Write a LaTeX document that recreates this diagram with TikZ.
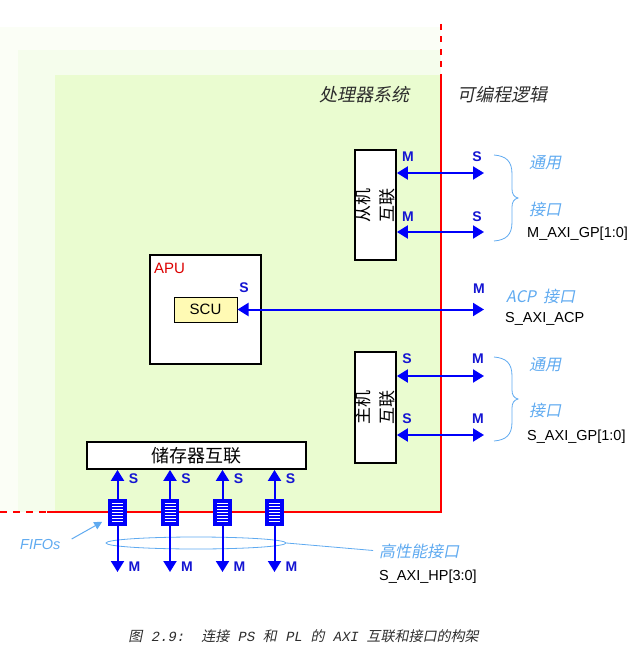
\documentclass[tikz,border=0pt]{standalone}
\usepackage{fontspec}
\setmainfont{Liberation Sans}
\newfontfamily\cjk{Noto Sans CJK SC}
\newfontfamily\cjkit[FakeSlant=0.2]{Noto Sans CJK SC}
\newfontfamily\capmono[FakeSlant=0.2]{Liberation Mono}
\usetikzlibrary{arrows.meta,shapes.geometric,calc}
\definecolor{gA}{RGB}{251,254,246}
\definecolor{gB}{RGB}{245,253,236}
\definecolor{gC}{RGB}{234,252,208}
\definecolor{ablue}{RGB}{0,0,250}
\definecolor{labblue}{RGB}{20,20,210}
\definecolor{lblue}{RGB}{95,170,240}
\definecolor{dgray}{RGB}{45,45,45}
\definecolor{scuy}{RGB}{255,250,180}
\definecolor{pred}{RGB}{255,0,0}
\definecolor{apured}{RGB}{220,0,0}
\begin{document}
\begin{tikzpicture}[x=1pt,y=-1pt,
  box/.style={draw=black,line width=1.8pt,fill=white,inner sep=0pt},
  port/.style={ablue,line width=2pt},
  tip/.style={port,-{Triangle[length=11pt,width=13pt]}},
  bi/.style={port,{Triangle[length=11pt,width=13pt]}-{Triangle[length=11pt,width=13pt]}},
  lab/.style={text=labblue,font=\bfseries\fontsize{14}{14}\selectfont,inner sep=0pt},
  note/.style={text=lblue,font=\cjkit\fontsize{16}{16}\selectfont,anchor=west,inner sep=0pt},
  sig/.style={text=black,font=\fontsize{14.5}{14.5}\selectfont,anchor=west,inner sep=0pt},
  redline/.style={pred,line width=2pt},
  bracestyle/.style={lblue,line width=0.8pt},
  fifo/.style={draw=ablue,line width=1.6pt,fill=ablue,minimum width=17pt,minimum height=25pt,inner sep=0pt,
    path picture={\foreach \k [evaluate=\k as \yy using 3.5+3*\k] in {0,...,6}{
      \draw[white,line width=1.6pt] ([xshift=3pt,yshift=-\yy pt]path picture bounding box.north west) -- ([xshift=-3pt,yshift=-\yy pt]path picture bounding box.north east);}}}
]
\useasboundingbox (0,0) rectangle (637,666);
% background bands
\fill[gA] (0,27) rectangle (441,512);
\fill[gB] (18,50) rectangle (441,512);
\fill[gC] (55,75) rectangle (441,512);
% PS / PL border
\draw[redline] (441,75) -- (441,512) -- (47,512);
\draw[redline,dash pattern=on 6pt off 6.5pt] (441,24) -- (441,75);
\draw[redline,dash pattern=on 7pt off 6pt] (0,512) -- (47,512);
% region titles
\node[text=dgray,font=\cjkit\fontsize{18}{18}\selectfont,inner sep=0pt] (pstitle) at (364,95) {处理器系统};
\node[text=dgray,font=\cjkit\fontsize{18}{18}\selectfont,inner sep=0pt] (pltitle) at (502.5,95) {可编程逻辑};
% interconnect boxes
\node[box,rotate=90,minimum width=110pt,minimum height=41pt,align=center,font=\cjk\fontsize{17}{24}\selectfont] (slv) at (375.5,205) {从机\\互联};
\node[box,rotate=90,minimum width=111pt,minimum height=41pt,align=center,font=\cjk\fontsize{17}{24}\selectfont] (mst) at (375.5,407.5) {主机\\互联};
% APU
\node[box,minimum width=111pt,minimum height=109pt] (apu) at (205.5,309.5) {};
\node[text=apured,font=\fontsize{15}{15}\selectfont,anchor=west,inner sep=0pt] (apulab) at (154,268) {APU};
\node[draw=black,line width=1pt,fill=scuy,minimum width=63pt,minimum height=25pt,inner sep=0pt,font=\fontsize{15}{15}\selectfont] (scu) at (205.5,309.5) {SCU};
% memory interconnect
\node[box,minimum width=219pt,minimum height=27pt,font=\cjk\fontsize{18}{18}\selectfont] (mem) at (196.5,455.5) {储存器互联};
% right-side end points
\coordinate (r1) at (484,173);
\coordinate (r2) at (484,232);
\coordinate (rA) at (484,309.5);
\coordinate (r3) at (484,376);
\coordinate (r4) at (484,435);
\draw[bi] (slv.south |- r1) -- (r1);
\draw[bi] (slv.south |- r2) -- (r2);
\draw[bi] (scu.east) -- (rA);
\draw[bi] (mst.south |- r3) -- (r3);
\draw[bi] (mst.south |- r4) -- (r4);
% M/S labels
\node[lab] (m1) at (408,157) {M};
\node[lab] (s1) at (477,157) {S};
\node[lab] (m2) at (408,217) {M};
\node[lab] (s2) at (477,217) {S};
\node[lab] (sA) at (244,288) {S};
\node[lab] (mA) at (479,289) {M};
\node[lab] (s3) at (407,359) {S};
\node[lab] (m3) at (478,359) {M};
\node[lab] (s4) at (407,419) {S};
\node[lab] (m4) at (478,419) {M};
% braces
\draw[bracestyle] (494,155) .. controls (506,156) and (512,161) .. (512,174) -- (512,189)
  .. controls (512,194) and (514,197) .. (518,198) .. controls (514,199) and (512,202) .. (512,207)
  -- (512,222) .. controls (512,235) and (506,240) .. (494,241);
\draw[bracestyle] (494,357) .. controls (506,358) and (512,363) .. (512,376) -- (512,390)
  .. controls (512,395) and (514,398) .. (518,399) .. controls (514,400) and (512,403) .. (512,408)
  -- (512,422) .. controls (512,435) and (506,440) .. (494,441);
% right-side notes
\node[note] (ty1) at (529,163) {通用};
\node[note] (jk1) at (529,209) {接口};
\node[sig] (mgp) at (527,234) {M\_AXI\_GP[1:0]};
\node[note] (acp) at (506,296) {{\itshape\fontsize{16}{16}\selectfont ACP}\hspace{7pt}接口};
\node[sig] (sacp) at (505,318.5) {S\_AXI\_ACP};
\node[note] (ty2) at (529,365) {通用};
\node[note] (jk2) at (529,410) {接口};
\node[sig] (sgp) at (527,437) {S\_AXI\_GP[1:0]};
% high performance ports
\node[ellipse,draw=lblue,line width=0.8pt,minimum width=180pt,minimum height=12pt,inner sep=0pt] (hpe) at (196,543) {};
\node[note] (hpt) at (379,551) {高性能接口};
\node[sig] (shp) at (379,577) {S\_AXI\_HP[3:0]};
\draw[lblue,line width=0.8pt,shorten >=6pt] (hpe.east) -- (hpt.west);
\foreach \i/\x in {1/117.5,2/170,3/222.5,4/274.5}{
  \node[fifo] (f\i) at (\x,512.5) {};
  \coordinate (d\i) at (\x,572);
  \draw[tip] (f\i.north) -- (f\i.north |- mem.south);
  \draw[tip] (f\i.south) -- (d\i);
  \node[lab] (fs\i) at (\x+16,479) {S};
  \node[lab] (fm\i) at (\x+17,567) {M};
}
\node[text=lblue,font=\itshape\fontsize{14.5}{14.5}\selectfont,anchor=west,inner sep=0pt] (fifot) at (20,545) {FIFOs};
\draw[lblue,line width=1pt,-{Triangle[length=8pt,width=8pt]}] ($(fifot.east)+(11,-6)$) -- ($(f1.south west)+(-6,-4)$);
% caption
\node[text=dgray,font=\fontsize{14}{14}\selectfont,inner sep=0pt] (cap) at (303.5,636)
  {{\cjkit 图}{\capmono\ 2.9:\ \ }{\cjkit 连接}{\capmono\ PS\ }{\cjkit 和}{\capmono\ PL\ }{\cjkit 的}{\capmono\ AXI\ }{\cjkit 互联和接口的构架}};
\end{tikzpicture}
\end{document}
